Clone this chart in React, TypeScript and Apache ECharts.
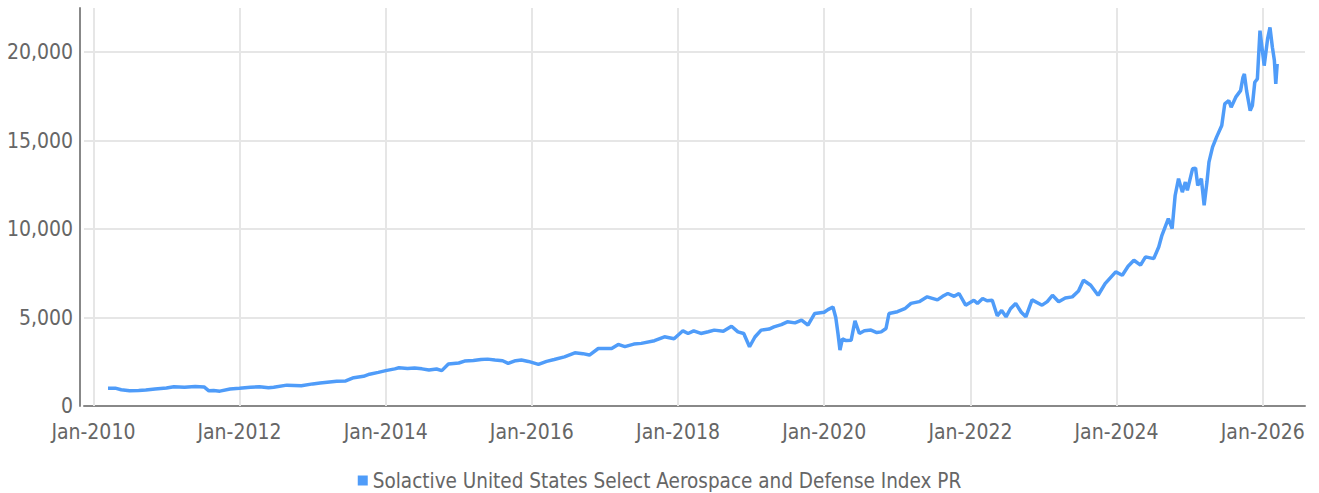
import React, { useEffect, useRef } from "react";
import * as echarts from "echarts";

const seriesName = "Solactive United States Select Aerospace and Defense Index PR";

const dates: string[] = [
  "2010-03-15", "2010-04-20", "2010-05-20", "2010-07-01", "2010-08-15", "2010-09-20", "2010-11-05",
  "2011-01-01", "2011-02-07", "2011-04-01", "2011-05-25", "2011-07-08", "2011-08-01", "2011-08-25", "2011-09-25", "2011-11-15",
  "2012-01-01", "2012-02-25", "2012-04-10", "2012-05-25", "2012-06-20", "2012-08-25", "2012-11-05",
  "2013-01-01", "2013-02-07", "2013-05-01", "2013-06-15", "2013-07-25", "2013-09-12", "2013-10-12", "2013-11-25",
  "2014-01-01", "2014-02-15", "2014-03-08", "2014-04-20", "2014-05-25", "2014-07-01", "2014-08-05", "2014-09-12", "2014-10-08", "2014-11-10",
  "2015-01-01", "2015-01-30", "2015-03-15", "2015-04-22", "2015-05-25", "2015-07-01", "2015-08-08", "2015-09-05", "2015-10-12", "2015-11-10", "2015-12-15",
  "2016-02-03", "2016-03-15", "2016-04-22", "2016-06-12", "2016-08-03", "2016-09-12", "2016-10-15", "2016-11-28",
  "2017-02-03", "2017-03-08", "2017-04-10", "2017-05-25", "2017-07-01", "2017-09-05", "2017-10-25", "2017-12-12",
  "2018-01-25", "2018-02-20", "2018-03-20", "2018-04-25", "2018-06-01", "2018-07-01", "2018-08-15", "2018-09-25", "2018-10-27", "2018-11-25", "2018-12-24",
  "2019-01-20", "2019-02-20", "2019-04-01", "2019-04-25", "2019-06-01", "2019-07-01", "2019-08-08", "2019-09-10", "2019-10-12", "2019-11-15",
  "2020-01-01", "2020-01-20", "2020-02-14", "2020-02-28", "2020-03-10", "2020-03-20", "2020-04-01", "2020-04-20", "2020-05-15", "2020-06-03", "2020-06-25", "2020-07-20", "2020-08-22", "2020-09-20", "2020-10-12", "2020-11-05", "2020-11-20",
  "2021-01-01", "2021-02-07", "2021-03-10", "2021-04-20", "2021-05-30", "2021-07-20", "2021-08-15", "2021-09-10", "2021-10-12", "2021-11-05", "2021-12-08",
  "2022-01-18", "2022-02-05", "2022-03-03", "2022-03-25", "2022-04-20", "2022-05-15", "2022-06-06", "2022-06-28", "2022-07-20", "2022-08-15", "2022-09-12", "2022-10-05", "2022-11-05", "2022-12-25",
  "2023-01-20", "2023-02-15", "2023-03-18", "2023-04-20", "2023-05-25", "2023-06-25", "2023-07-20", "2023-08-25", "2023-10-01", "2023-11-05", "2023-12-28",
  "2024-01-30", "2024-02-28", "2024-03-28", "2024-04-30", "2024-05-25", "2024-07-05", "2024-07-30", "2024-08-15", "2024-09-16", "2024-10-05", "2024-10-20", "2024-11-06", "2024-11-25", "2024-12-10", "2024-12-20",
  "2025-01-15", "2025-01-30", "2025-02-10", "2025-02-28", "2025-03-14", "2025-03-28", "2025-04-07", "2025-04-25", "2025-05-15", "2025-06-10", "2025-06-25", "2025-07-15", "2025-07-27", "2025-08-19", "2025-09-12", "2025-09-24", "2025-10-01", "2025-10-12", "2025-10-30", "2025-11-10", "2025-11-22", "2025-12-05", "2025-12-18",
  "2026-01-08", "2026-01-25", "2026-02-06", "2026-02-18", "2026-02-28", "2026-03-07", "2026-03-14",
];

const values: number[] = [
  1000, 1010, 920, 860, 880, 900, 960,
  1020, 1090, 1060, 1100, 1080, 860, 880, 840, 960,
  1000, 1060, 1090, 1030, 1060, 1180, 1150,
  1250, 1300, 1400, 1420, 1600, 1680, 1800, 1900,
  2000, 2100, 2160, 2120, 2150, 2100, 2030, 2090, 2000, 2370,
  2430, 2540, 2570, 2630, 2650, 2600, 2560, 2410, 2560, 2600, 2520,
  2350, 2520, 2630, 2780, 3010, 2960, 2880, 3250,
  3250, 3480, 3360, 3500, 3540, 3690, 3910, 3800,
  4250, 4100, 4250, 4100, 4200, 4290, 4230, 4510, 4190, 4100, 3350,
  3900, 4290, 4350, 4470, 4600, 4760, 4700, 4850, 4570, 5230,
  5300, 5450, 5600, 5000, 4100, 3160, 3800, 3700, 3720, 4810, 4100, 4250, 4290, 4150, 4190, 4380, 5230,
  5330, 5500, 5800, 5900, 6170, 6000, 6200, 6360, 6200, 6360, 5700,
  5980, 5800, 6080, 5950, 5980, 5100, 5400, 5040, 5500, 5800, 5300, 5040, 6000, 5700,
  5900, 6260, 5890, 6100, 6170, 6500, 7110, 6830, 6260, 6920, 7580,
  7390, 7900, 8240, 7960, 8430, 8330, 8990, 9650, 10590, 10030, 11900, 12850, 12090, 12660, 12190,
  13410, 13450, 12470, 12850, 11340, 12660, 13790, 14630, 15200, 15860, 17080, 17270, 16890, 17460, 17830, 18580, 18770, 17830, 16700, 16990, 18300, 18490, 21220,
  19240, 20750, 21400, 20280, 19530, 18210, 19340,
];

const gridYears: number[] = [2010, 2012, 2014, 2016, 2018, 2020, 2022, 2024, 2026];
const xMin = "2009-11-15";
const xMax = "2026-07-31";
const yTicks = { min: 0, max: 22500, interval: 5000 };

const FONT = "'DejaVu Sans Condensed', 'Liberation Sans Narrow', sans-serif";
const FONT_SIZE = 21;
const LINE_COLOR = "#4f9cf9";
const LABEL_COLOR = "#666666";
const GRID_COLOR = "#e6e6e6";
const AXIS_COLOR = "#888888";

export default function App() {
  const ref = useRef<HTMLDivElement>(null);
  useEffect(() => {
    if (!ref.current) return;
    document.body.style.margin = "0";
    const chart = echarts.init(ref.current, undefined, { renderer: "svg" });
    const parse = (s: string) => +(echarts as any).time.parse(s);
    const seriesData = dates.map((d, i) => [parse(d), values[i]]);
    const markData = gridYears.map((y) => ({ name: "Jan-" + y, xAxis: parse(y + "-01-01") }));
    chart.setOption({
      animation: false,
      backgroundColor: "#ffffff",
      grid: { left: 84, right: 14, top: 8, bottom: 87, containLabel: false, outerBoundsMode: "none" },
      legend: {
        show: true,
        data: [{ name: seriesName, icon: "rect" }],
        left: "center",
        top: 465,
        itemWidth: 10,
        itemHeight: 10,
        itemGap: 5,
        textStyle: { fontFamily: FONT, fontSize: 20.5, color: LABEL_COLOR },
        selectedMode: false,
      },
      tooltip: { show: false },
      xAxis: {
        type: "time",
        min: parse(xMin),
        max: parse(xMax),
        offset: 2,
        axisLine: { show: true, lineStyle: { color: AXIS_COLOR, width: 2 } },
        axisTick: { show: false },
        axisLabel: { show: false },
        splitLine: { show: false },
      },
      yAxis: {
        type: "value",
        min: yTicks.min,
        max: yTicks.max,
        interval: yTicks.interval,
        offset: 4,
        axisLine: { show: true, lineStyle: { color: AXIS_COLOR, width: 2 } },
        axisTick: { show: false },
        axisLabel: {
          show: true,
          showMaxLabel: false,
          margin: 7,
          color: LABEL_COLOR,
          fontFamily: FONT,
          fontSize: FONT_SIZE,
          formatter: (v: number) => v.toLocaleString("en-US"),
        },
        splitLine: { show: true, showMaxLine: false, lineStyle: { color: GRID_COLOR, width: 2 } },
      },
      series: [
        {
          type: "line",
          name: "__grid",
          data: [],
          silent: true,
          z: 1,
          markLine: {
            silent: true,
            z: 1,
            symbol: "none",
            animation: false,
            lineStyle: { color: GRID_COLOR, width: 2, type: "solid" },
            emphasis: { disabled: true },
            label: {
              show: true,
              position: "start",
              distance: 15,
              formatter: "{b}",
              color: LABEL_COLOR,
              fontFamily: FONT,
              fontSize: FONT_SIZE,
            },
            data: markData,
          },
        },
        {
          type: "line",
          name: seriesName,
          data: seriesData,
          z: 5,
          showSymbol: false,
          symbol: "none",
          color: LINE_COLOR,
          lineStyle: { color: LINE_COLOR, width: 3.5 },
          itemStyle: { color: LINE_COLOR },
          emphasis: { disabled: true },
        },
      ],
    });
    return () => chart.dispose();
  }, []);
  return <div ref={ref} style={{ width: 1319, height: 493, background: "#fff" }} />;
}
